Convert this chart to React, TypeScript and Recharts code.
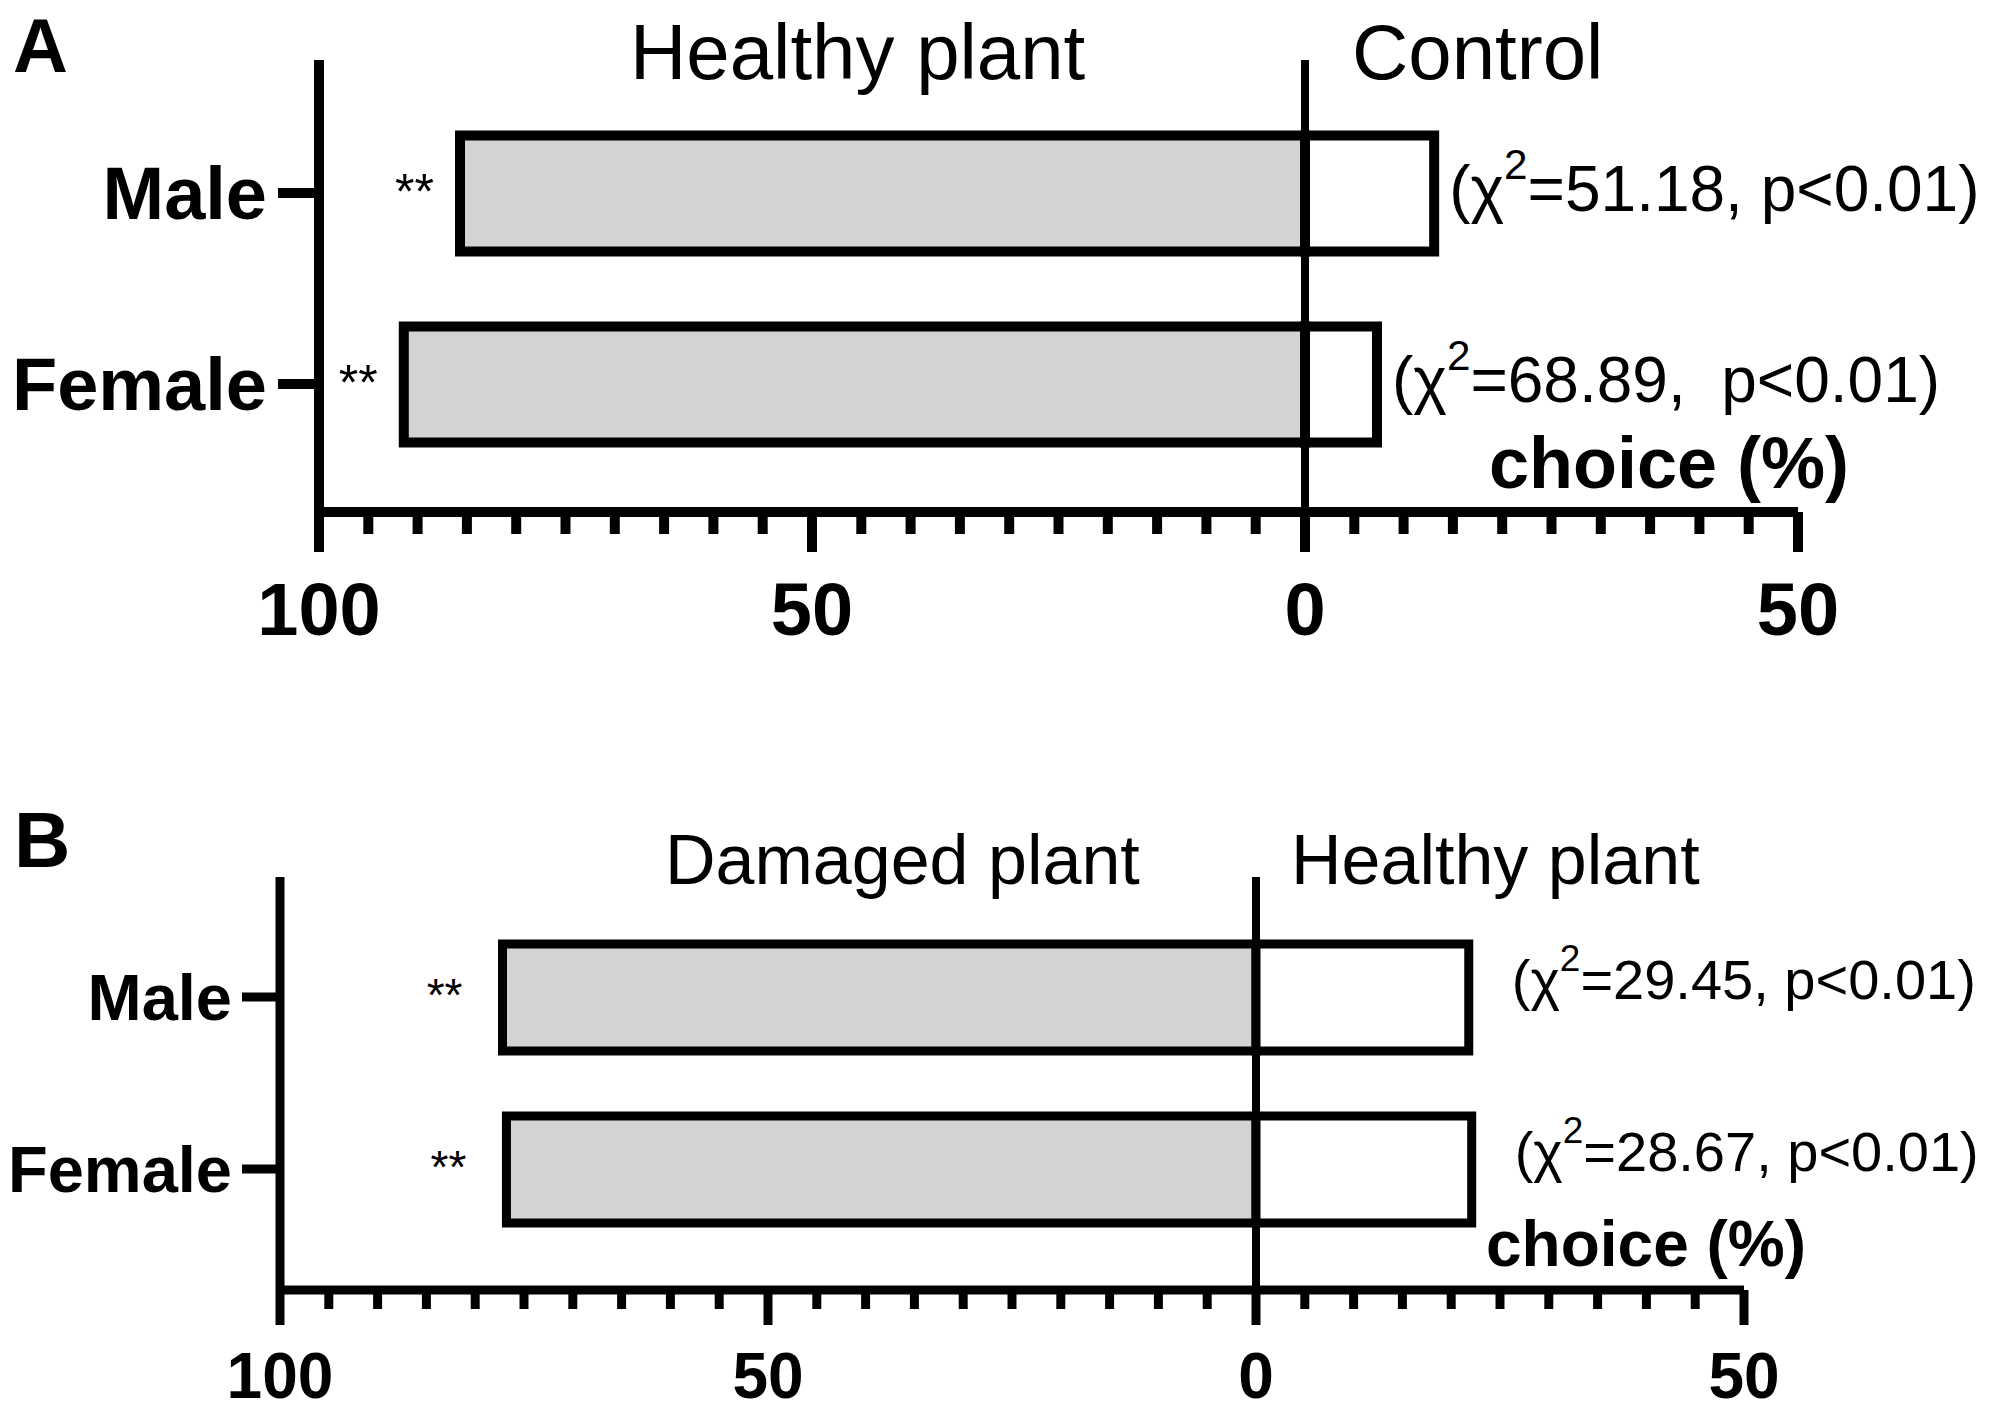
import { Bar, BarChart, LabelList, ReferenceLine, XAxis, YAxis } from 'recharts'

// ---- data ----
const groups = ['Male', 'Female']

// Panel A: healthy plant vs control (% choice)
const aHealthy = [85.7, 91.4]
const aControl = [13.1, 7.3]
const aChi = ['51.18, p<0.01)', '68.89,  p<0.01)']
const aSig = ['**', '**']

// Panel B: damaged plant vs healthy plant (% choice)
const bDamaged = [77.2, 76.8]
const bHealthy = [21.8, 22.1]
const bChi = ['29.45, p<0.01)', '28.67, p<0.01)']
const bSig = ['**', '**']

const xTicks = [
  -100, -95, -90, -85, -80, -75, -70, -65, -60, -55, -50, -45, -40, -35, -30, -25, -20, -15, -10, -5,
  0, 5, 10, 15, 20, 25, 30, 35, 40, 45, 50,
]
const majorTicks = [-100, -50, 0, 50]

const FONT = "'Liberation Sans', Arial, sans-serif"
const GREY = '#d3d3d3'

type PanelConfig = {
  height: number
  top: number
  leftAxis: number
  right: number
  xAxisHeight: number
  padTop: number
  padBottom: number
  barSize: number
  stroke: number
  catFont: number
  catTickLen: number
  catTickGap: number
  minorLen: number
  majorLen: number
  labelDy: number
  labelFont: number
  chiFont: number
  chiGap: number
  chiDy: number
  sigFont: number
  sigGap: number
  sigDy: number
}

function buildRows(left: number[], right: number[], chi: string[], sig: string[]) {
  return groups.map((g, i) => ({
    group: g,
    left: -left[i],
    right: right[i],
    chi: chi[i],
    sig: sig[i],
  }))
}

function boxOf(p: any) {
  const vb = p.viewBox ?? p
  const x = Number(vb.x)
  const w = Number(vb.width)
  const y = Number(vb.y)
  const h = Number(vb.height)
  return {
    l: Math.min(x, x + w),
    r: Math.max(x, x + w),
    cy: Math.min(y, y + h) + Math.abs(h) / 2,
  }
}

function Panel({ rows, cfg }: { rows: ReturnType<typeof buildRows>; cfg: PanelConfig }) {
  const XTick = (props: any) => {
    const { x, y, payload } = props
    const v = payload.value as number
    const major = majorTicks.includes(v)
    return (
      <g>
        <line
          x1={x}
          x2={x}
          y1={y}
          y2={y + (major ? cfg.majorLen : cfg.minorLen)}
          stroke="#000"
          strokeWidth={cfg.stroke}
        />
        {major && (
          <text
            x={x}
            y={y + cfg.labelDy}
            textAnchor="middle"
            fontSize={cfg.labelFont}
            fontWeight={700}
            fontFamily={FONT}
            fill="#000"
          >
            {Math.abs(v)}
          </text>
        )}
      </g>
    )
  }

  const ChiLabel = (p: any) => {
    const b = boxOf(p)
    const fs = cfg.chiFont
    return (
      <text
        x={b.r + cfg.chiGap}
        y={b.cy + cfg.chiDy}
        fontSize={fs}
        fontFamily={FONT}
        fill="#000"
        style={{ whiteSpace: 'pre' }}
      >
        (χ
        <tspan dy={-0.5 * fs} fontSize={0.66 * fs}>
          2
        </tspan>
        <tspan dy={0.5 * fs}>={p.value}</tspan>
      </text>
    )
  }

  const SigLabel = (p: any) => {
    const b = boxOf(p)
    return (
      <text
        x={b.l - cfg.sigGap}
        y={b.cy + cfg.sigDy}
        textAnchor="end"
        fontSize={cfg.sigFont}
        fontFamily={FONT}
        fill="#000"
      >
        {p.value}
      </text>
    )
  }

  return (
    <BarChart
      width={1995}
      height={cfg.height}
      data={rows}
      layout="vertical"
      stackOffset="sign"
      margin={{ top: cfg.top, right: cfg.right, left: 0, bottom: 0 }}
    >
      <XAxis
        type="number"
        domain={[-100, 50]}
        ticks={xTicks}
        interval={0}
        allowDataOverflow
        height={cfg.xAxisHeight}
        axisLine={{ stroke: '#000', strokeWidth: cfg.stroke }}
        tickLine={false}
        tickSize={0}
        tickMargin={0}
        tick={XTick}
      />
      <YAxis
        type="category"
        dataKey="group"
        width={cfg.leftAxis}
        padding={{ top: cfg.padTop, bottom: cfg.padBottom }}
        axisLine={{ stroke: '#000', strokeWidth: cfg.stroke }}
        tickLine={{ stroke: '#000', strokeWidth: cfg.stroke }}
        tickSize={cfg.catTickLen}
        tickMargin={cfg.catTickGap}
        tick={{ fontSize: cfg.catFont, fontWeight: 700, fill: '#000', fontFamily: FONT }}
      />
      <Bar
        dataKey="left"
        stackId="s"
        fill={GREY}
        stroke="#000"
        strokeWidth={cfg.stroke}
        barSize={cfg.barSize}
        isAnimationActive={false}
      >
        <LabelList dataKey="sig" content={SigLabel} />
      </Bar>
      <Bar
        dataKey="right"
        stackId="s"
        fill="#fff"
        stroke="#000"
        strokeWidth={cfg.stroke}
        barSize={cfg.barSize}
        isAnimationActive={false}
      >
        <LabelList dataKey="chi" content={ChiLabel} />
      </Bar>
      <ReferenceLine x={0} stroke="#000" strokeWidth={8} />
    </BarChart>
  )
}

const panelA: PanelConfig = {
  height: 700,
  top: 60,
  leftAxis: 319,
  right: 197,
  xAxisHeight: 188,
  padTop: 37.5,
  padBottom: 32.5,
  barSize: 116,
  stroke: 10,
  catFont: 74,
  catTickLen: 41,
  catTickGap: 11,
  minorLen: 22,
  majorLen: 40,
  labelDy: 123,
  labelFont: 74,
  chiFont: 64,
  chiGap: 15,
  chiDy: 17,
  sigFont: 50,
  sigGap: 26,
  sigDy: 15,
}

const panelB: PanelConfig = {
  height: 714,
  top: 177,
  leftAxis: 280,
  right: 251,
  xAxisHeight: 124,
  padTop: 34,
  padBottom: 35,
  barSize: 107,
  stroke: 9,
  catFont: 65,
  catTickLen: 38,
  catTickGap: 10,
  minorLen: 19,
  majorLen: 35,
  labelDy: 108,
  labelFont: 64,
  chiFont: 56,
  chiGap: 43,
  chiDy: 1,
  sigFont: 46,
  sigGap: 40,
  sigDy: 13,
}

export default function App() {
  const rowsA = buildRows(aHealthy, aControl, aChi, aSig)
  const rowsB = buildRows(bDamaged, bHealthy, bChi, bSig)
  return (
    <div
      style={{
        position: 'absolute',
        left: 0,
        top: 0,
        width: 1995,
        height: 1414,
        background: '#fff',
        fontFamily: FONT,
      }}
    >
      <div style={{ position: 'absolute', left: 0, top: 0 }}>
        <Panel rows={rowsA} cfg={panelA} />
      </div>
      <div style={{ position: 'absolute', left: 0, top: 700 }}>
        <Panel rows={rowsB} cfg={panelB} />
      </div>
      <svg
        width={1995}
        height={1414}
        style={{ position: 'absolute', left: 0, top: 0, pointerEvents: 'none' }}
        fontFamily={FONT}
        fill="#000"
      >
        <text x={13} y={72} fontSize={76} fontWeight={700}>A</text>
        <text x={630} y={79} fontSize={78}>Healthy plant</text>
        <text x={1352} y={79} fontSize={78}>Control</text>
        <text x={1489} y={488} fontSize={72} fontWeight={700}>choice (%)</text>

        <text x={14} y={867} fontSize={78} fontWeight={700}>B</text>
        <text x={665} y={884} fontSize={70}>Damaged plant</text>
        <text x={1291} y={884} fontSize={70}>Healthy plant</text>
        <text x={1486} y={1266} fontSize={64} fontWeight={700}>choice (%)</text>
      </svg>
    </div>
  )
}
